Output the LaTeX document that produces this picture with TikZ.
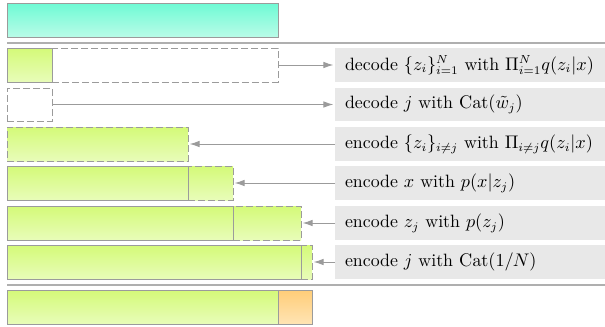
\documentclass[tikz,border=0pt]{standalone}
\usetikzlibrary{arrows.meta}
\definecolor{edgegray}{RGB}{155,155,155}
\definecolor{rulegray}{RGB}{175,175,175}
\definecolor{labelfill}{RGB}{232,232,232}
\definecolor{greentop}{RGB}{212,250,120}
\definecolor{greenbot}{RGB}{232,252,185}
\definecolor{tealtop}{RGB}{110,250,212}
\definecolor{tealbot}{RGB}{185,252,232}
\definecolor{orangetop}{RGB}{255,205,120}
\definecolor{orangebot}{RGB}{255,228,180}
\tikzset{
  seg/.style 2 args={anchor=north west, inner sep=0pt, outer sep=0pt,
    minimum width=#1*0.6pt, minimum height=#2*0.6pt},
  solidseg/.style={draw=edgegray, line width=0.6pt},
  dashseg/.style={draw=edgegray, line width=0.6pt, dash pattern=on 4pt off 2pt},
  greenfill/.style={top color=greentop, bottom color=greenbot},
  tealfill/.style={top color=tealtop, bottom color=tealbot},
  orangefill/.style={top color=orangetop, bottom color=orangebot},
  label/.style={anchor=north west, fill=labelfill, inner sep=0pt, outer sep=0pt,
    minimum width=270*0.6pt, minimum height=#1*0.6pt, text width=270*0.6pt,
    align=left, font=\fontsize{10.7}{13}\selectfont},
  conn/.style={draw=edgegray, line width=0.6pt,
    -{Latex[length=6pt,width=4pt,fill=edgegray]}, shorten >=1pt},
  sep/.style={draw=rulegray, line width=0.9pt},
}
\begin{document}
\begin{tikzpicture}[x=0.6pt, y=-0.6pt]
\useasboundingbox (0,0) rectangle (605,327);

% initial state
\node[seg={271}{34}, solidseg, tealfill] (top) at (7,3) {};

\coordinate (s1a) at (7,43);
\coordinate (s1b) at (605,43);
\draw[sep] (s1a) -- (s1b);

% dashed (pending) segments first, so solid edges stay on top
\node[seg={226}{34}, dashseg] (r1b) at (52,48) {};
\node[seg={45}{33}, dashseg] (r2a) at (7,88) {};
\node[seg={181}{34}, dashseg, greenfill] (r3a) at (7,127) {};
\node[seg={45}{34}, dashseg, greenfill] (r4b) at (188,166) {};
\node[seg={68}{34}, dashseg, greenfill] (r5b) at (233,206) {};
\node[seg={11}{34}, dashseg, greenfill] (r6b) at (301,245) {};

% solid segments
\node[seg={45}{34}, solidseg, greenfill] (r1a) at (7,48) {};
\node[seg={181}{34}, solidseg, greenfill] (r4a) at (7,166) {};
\node[seg={226}{34}, solidseg, greenfill] (r5a) at (7,206) {};
\node[seg={294}{34}, solidseg, greenfill] (r6a) at (7,245) {};

\coordinate (s2a) at (7,285);
\coordinate (s2b) at (605,285);
\draw[sep] (s2a) -- (s2b);

% final state
\node[seg={271}{34}, solidseg, greenfill] (r7a) at (7,290) {};
\node[seg={34}{34}, solidseg, orangefill] (r7b) at (278,290) {};

% step labels
\node[label=34] (l1) at (335,48) {\hspace*{6pt}decode $\{z_i\}_{i=1}^N$ with $\Pi_{i=1}^N q(z_i|x)$};
\node[label=33] (l2) at (335,88) {\hspace*{6pt}decode $j$ with $\mathrm{Cat}(\tilde{w}_j)$};
\node[label=34] (l3) at (335,127) {\hspace*{6pt}encode $\{z_i\}_{i\neq j}$ with $\Pi_{i\neq j} q(z_i|x)$};
\node[label=34] (l4) at (335,166) {\hspace*{6pt}encode $x$ with $p(x|z_j)$};
\node[label=34] (l5) at (335,206) {\hspace*{6pt}encode $z_j$ with $p(z_j)$};
\node[label=34] (l6) at (335,245) {\hspace*{6pt}encode $j$ with $\mathrm{Cat}(1/N)$};

% connectors
\draw[conn] (r1b.east) -- (l1.west |- r1b.east);
\draw[conn] (r2a.east) -- (l2.west |- r2a.east);
\draw[conn] (l3.west) -- (r3a.east |- l3.west);
\draw[conn] (l4.west) -- (r4b.east |- l4.west);
\draw[conn] (l5.west) -- (r5b.east |- l5.west);
\draw[conn] (l6.west) -- (r6b.east |- l6.west);
\end{tikzpicture}
\end{document}
